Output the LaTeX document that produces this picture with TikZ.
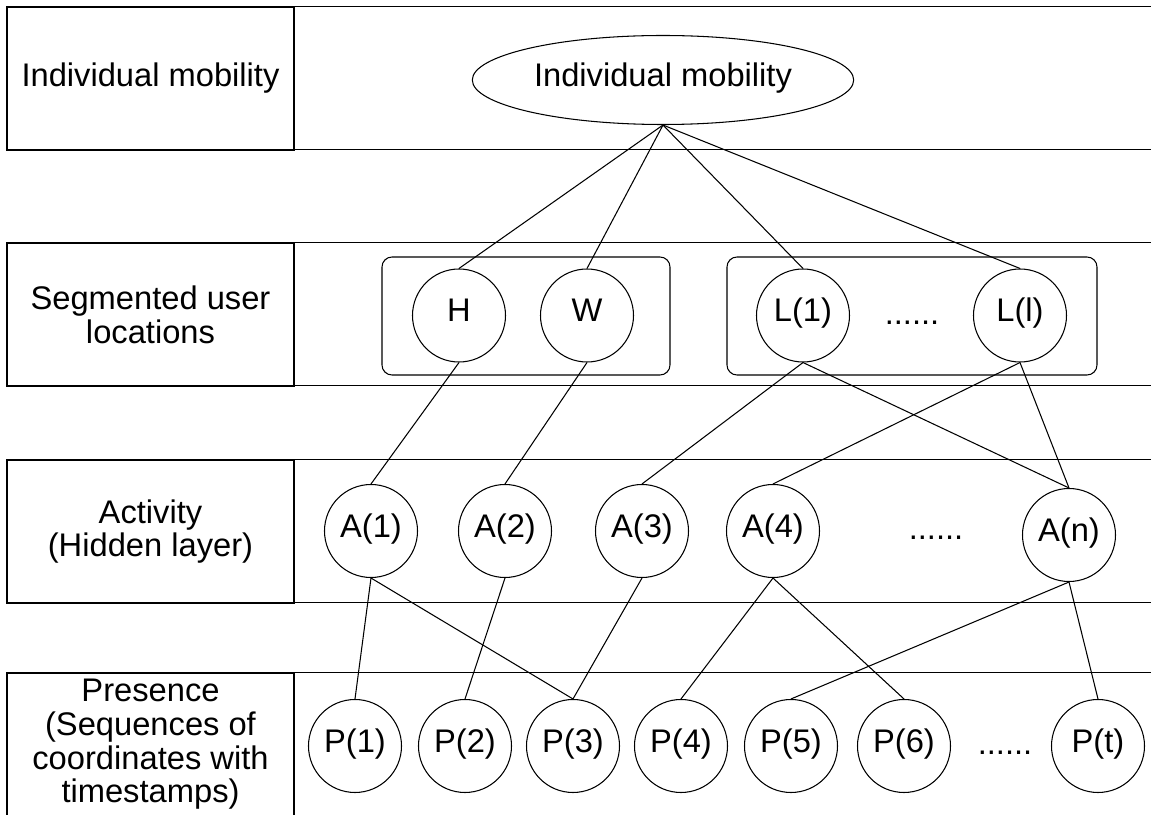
\documentclass[tikz,border=0pt]{standalone}
\usepackage{fontspec}
\setmainfont{Liberation Sans}
\usetikzlibrary{positioning, shapes.geometric}

\begin{document}
\begin{tikzpicture}[
    every node/.style={font=\fontsize{18.6}{19.2}\selectfont},
    % Styles
    rowcell/.style={draw, line width=0.8pt, minimum width=5.74cm, minimum height=2.86cm, align=center, inner sep=0pt},
    rowband/.style={draw, line width=0.8pt},
    state/.style={draw, circle, line width=0.6pt, minimum size=1.86cm, inner sep=0pt, text height=0.716em, text depth=0pt},
    group/.style={draw, line width=0.6pt, rounded corners=0.2cm},
    link/.style={line width=0.6pt},
    dots/.style={inner sep=0pt},
]

\useasboundingbox (0,0) rectangle (23.02,16.30);
\clip (0,0) rectangle (23.02,16.30);

% Layer rows (label cell + band)
\node[rowcell] (row-mob) at (3.01,14.73) {Individual mobility};
\draw[rowband] (row-mob.north east) rectangle ++(17.8,-2.86);

\node[rowcell] (row-loc) at (3.01,10.01) {Segmented user\\locations};
\draw[rowband] (row-loc.north east) rectangle ++(17.8,-2.86);

\node[rowcell] (row-act) at (3.01,5.67) {Activity\\(Hidden layer)};
\draw[rowband] (row-act.north east) rectangle ++(17.8,-2.86);

\node[rowcell] (row-pre) at (3.01,1.41) {Presence\\(Sequences of\\coordinates with\\timestamps)};
\draw[rowband] (row-pre.north east) rectangle ++(17.8,-2.86);

% TOP: individual mobility
\node[draw, ellipse, line width=0.6pt, minimum width=7cm, minimum height=1.78cm, text height=0.716em, text depth=0pt] (mob) at (13.26,14.70) {Individual mobility};

% Segmented user locations
\draw[group] (7.64,11.16) rectangle (13.40,8.80);
\draw[group] (14.54,11.16) rectangle (21.94,8.80);

\node[state] (h) at (9.18,9.99) {H};
\node[state] (w) at (11.74,9.99) {W};
\node[state] (l1) at (16.06,9.99) {L(1)};
\node[dots] (l-dots) at (18.24,9.84) {......};
\node[state] (ll) at (20.40,9.99) {L(l)};

% Activity (hidden layer)
\node[state] (a1) at (7.42,5.68) {A(1)};
\node[state] (a2) at (10.10,5.68) {A(2)};
\node[state] (a3) at (12.84,5.68) {A(3)};
\node[state] (a4) at (15.46,5.68) {A(4)};
\node[dots] (a-dots) at (18.72,5.54) {......};
\node[state] (an) at (21.38,5.60) {A(n)};

% Presence
\node[state] (p1) at (7.10,1.38) {P(1)};
\node[state] (p2) at (9.30,1.38) {P(2)};
\node[state] (p3) at (11.46,1.38) {P(3)};
\node[state] (p4) at (13.62,1.38) {P(4)};
\node[state] (p5) at (15.82,1.38) {P(5)};
\node[state] (p6) at (18.08,1.38) {P(6)};
\node[dots] (p-dots) at (20.10,1.24) {......};
\node[state] (pt) at (21.96,1.38) {P(t)};

% Links mobility -> locations
\draw[link] (mob.south) -- (h.north);
\draw[link] (mob.south) -- (w.north);
\draw[link] (mob.south) -- (l1.north);
\draw[link] (mob.south) -- (ll.north);

% Links locations -> activities
\draw[link] (h.south) -- (a1.north);
\draw[link] (w.south) -- (a2.north);
\draw[link] (l1.south) -- (a3.north);
\draw[link] (l1.south) -- (an.north);
\draw[link] (ll.south) -- (a4.north);
\draw[link] (ll.south) -- (an.north);

% Links activities -> presence
\draw[link] (a1.south) -- (p1.north);
\draw[link] (a1.south) -- (p3.north);
\draw[link] (a2.south) -- (p2.north);
\draw[link] (a3.south) -- (p3.north);
\draw[link] (a4.south) -- (p4.north);
\draw[link] (a4.south) -- (p6.north);
\draw[link] (an.south) -- (p5.north);
\draw[link] (an.south) -- (pt.north);

\end{tikzpicture}
\end{document}
